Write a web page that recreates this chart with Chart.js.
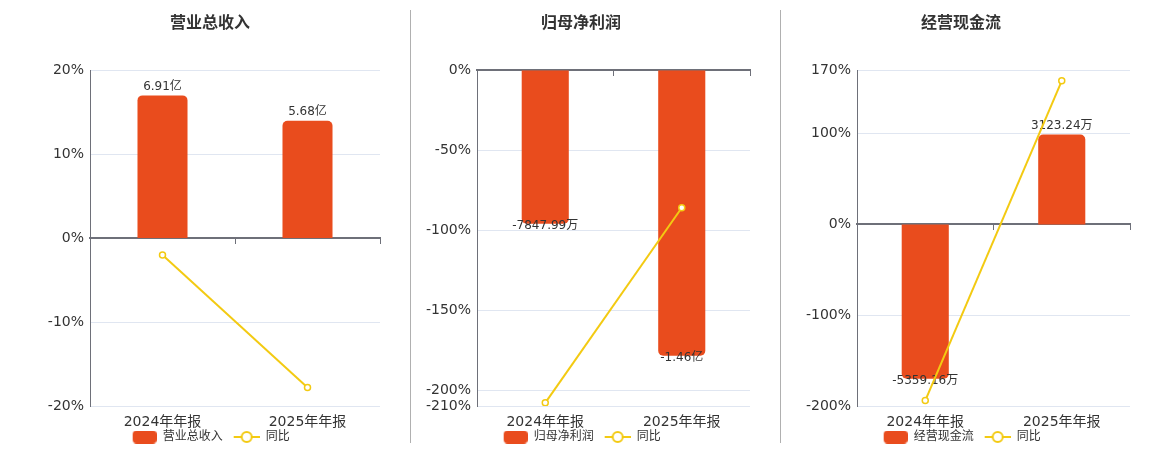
<!DOCTYPE html>
<html>
<head>
<meta charset="utf-8">
<script src="https://cdn.jsdelivr.net/npm/chart.js@4/dist/chart.umd.min.js"></script>
<style>
  body { margin: 0; background: #fff; }
  #wrap { position: relative; width: 1160px; height: 450px; overflow: hidden; }
  .panel { position: absolute; top: 0; height: 450px; }
  .sep { position: absolute; top: 10px; width: 1px; height: 433px; background: #b0b0b0; }
</style>
</head>
<body>
<div id="wrap">
  <div class="panel" style="left:0;width:390px"><canvas id="c1"></canvas></div>
  <div class="panel" style="left:402px;width:358px"><canvas id="c2"></canvas></div>
  <div class="panel" style="left:782px;width:358px"><canvas id="c3"></canvas></div>
  <div class="sep" style="left:410px"></div>
  <div class="sep" style="left:780px"></div>
</div>
<script>
// categories
const periods = ['2024年年报', '2025年年报'];

// values in 万元
const revenue = [69100, 56800];
const netProfit = [-7847.99, -14600];
const cashFlow = [-5359.16, 3123.24];

// year-on-year change, %
const revenueYoy = [-2.0, -17.8];
const netProfitYoy = [-208, -86.0];
const cashFlowYoy = [-194, 158.3];

// y axis ticks, %
const revenueTicks = [-20, -10, 0, 10, 20];
const netProfitTicks = [-210, -200, -150, -100, -50, 0];
const cashFlowTicks = [-200, -100, 0, 100, 170];

const BAR_COLOR = '#e94c1d';
const LINE_COLOR = '#f3ca12';
const AXIS_COLOR = '#6e7079';
const GRID_COLOR = '#e0e6f1';
const FONT = 'DejaVu Sans, "Noto Sans CJK SC", sans-serif';
const ICON_W = 34;

// format 万 value as label text
function fmtAmount(v) {
  if (Math.abs(v) >= 10000) return (v / 10000).toFixed(2) + '亿';
  return v.toFixed(2) + '万';
}

// legend symbols, right-aligned in the icon box (the left part is spacing)
function legendRect() {
  const c = document.createElement('canvas');
  c.width = ICON_W; c.height = 13;
  const ctx = c.getContext('2d');
  ctx.fillStyle = BAR_COLOR;
  ctx.beginPath();
  ctx.roundRect(ICON_W - 24, 0, 24, 13, 4);
  ctx.fill();
  return c;
}
function legendLine() {
  const c = document.createElement('canvas');
  c.width = ICON_W; c.height = 14;
  const ctx = c.getContext('2d');
  const x0 = ICON_W - 26;
  ctx.strokeStyle = LINE_COLOR;
  ctx.lineWidth = 2;
  ctx.beginPath();
  ctx.moveTo(x0, 7); ctx.lineTo(ICON_W, 7);
  ctx.stroke();
  ctx.fillStyle = '#fff';
  ctx.beginPath();
  ctx.arc(x0 + 13, 7, 5, 0, Math.PI * 2);
  ctx.fill();
  ctx.stroke();
  return c;
}

// value labels on the bars, drawn before the line
const barLabels = {
  id: 'barLabels',
  afterDatasetDraw(chart, args) {
    if (args.index !== 0) return;
    const ctx = chart.ctx;
    const data = chart.data.datasets[0].data;
    ctx.save();
    ctx.font = '12px ' + FONT;
    ctx.fillStyle = '#333';
    ctx.textAlign = 'center';
    args.meta.data.forEach((bar, i) => {
      const v = data[i];
      if (v >= 0) {
        ctx.textBaseline = 'bottom';
        ctx.fillText(fmtAmount(v), bar.x, bar.y - 3);
      } else {
        ctx.textBaseline = 'top';
        ctx.fillText(fmtAmount(v), bar.x, bar.y - 4);
      }
    });
    ctx.restore();
  }
};

function makeChart(id, title, name, bars, yoy, ticks, leftPad, leftWidth) {
  const yMin = ticks[0];
  const yMax = ticks[ticks.length - 1];
  // bar axis scaled so the largest bar fills 85% of its side
  const big = bars.reduce((a, b) => Math.abs(b) > Math.abs(a) ? b : a, 0);
  const ext = big >= 0 ? yMax : yMin;
  const k = big / (0.85 * ext);

  new Chart(document.getElementById(id), {
    data: {
      labels: periods,
      datasets: [
        {
          type: 'bar',
          label: name,
          data: bars,
          yAxisID: 'y1',
          xAxisID: 'x',
          backgroundColor: BAR_COLOR,
          borderRadius: 5,
          borderSkipped: 'start',
          categoryPercentage: 0.345,
          barPercentage: 1,
          order: 1
        },
        {
          type: 'line',
          label: '同比',
          data: yoy,
          yAxisID: 'y',
          xAxisID: 'x',
          borderColor: LINE_COLOR,
          borderWidth: 2,
          pointRadius: 3,
          pointBorderWidth: 1.5,
          pointBackgroundColor: '#fff',
          pointBorderColor: LINE_COLOR,
          order: 0
        }
      ]
    },
    options: {
      responsive: true,
      maintainAspectRatio: false,
      animation: false,
      layout: { padding: { left: leftPad, right: 10, top: 0, bottom: -3 } },
      plugins: {
        tooltip: { enabled: false },
        title: {
          display: true,
          text: title,
          color: '#333',
          font: { family: FONT, size: 16, weight: 'bold' },
          padding: { top: 14, bottom: 37 }
        },
        legend: {
          position: 'bottom',
          labels: {
            usePointStyle: true,
            pointStyleWidth: ICON_W,
            padding: 3,
            color: '#333',
            font: { family: FONT, size: 12 },
            generateLabels(chart) {
              return chart.data.datasets.map((ds, i) => ({
                text: i === 0 ? ds.label : ds.label + '  ',
                pointStyle: i === 0 ? legendRect() : legendLine(),
                fillStyle: 'transparent',
                strokeStyle: 'transparent',
                lineWidth: 0,
                datasetIndex: i,
                fontColor: '#333'
              }));
            }
          }
        }
      },
      scales: {
        x: {
          type: 'category',
          position: 'bottom',
          offset: true,
          grid: { display: false, drawTicks: false },
          border: { display: false },
          ticks: { color: '#333', font: { family: FONT, size: 14 }, padding: 8 },
          afterFit(scale) { scale.height = 22; }
        },
        x2: {
          type: 'category',
          position: { y: 0 },
          offset: true,
          grid: { offset: true, drawOnChartArea: false, drawTicks: true, tickLength: 5, color: AXIS_COLOR },
          border: { display: true, color: AXIS_COLOR, width: 2 },
          ticks: { display: false }
        },
        y: {
          type: 'linear',
          position: 'left',
          min: yMin,
          max: yMax,
          afterBuildTicks(scale) { scale.ticks = ticks.map(v => ({ value: v })); },
          afterFit(scale) { scale.width = leftWidth; },
          grid: { color: GRID_COLOR, drawTicks: false },
          border: { display: true, color: AXIS_COLOR, width: 1 },
          ticks: {
            color: '#333',
            font: { family: FONT, size: 14 },
            padding: 6,
            callback: v => v + '%'
          }
        },
        y1: {
          type: 'linear',
          display: false,
          min: yMin * k,
          max: yMax * k
        }
      }
    },
    plugins: [barLabels]
  });
}

makeChart('c1', '营业总收入', '营业总收入', revenue, revenueYoy, revenueTicks, 40, 50);
makeChart('c2', '归母净利润', '归母净利润', netProfit, netProfitYoy, netProfitTicks, 10, 65);
makeChart('c3', '经营现金流', '经营现金流', cashFlow, cashFlowYoy, cashFlowTicks, 10, 65);
</script>
</body>
</html>
